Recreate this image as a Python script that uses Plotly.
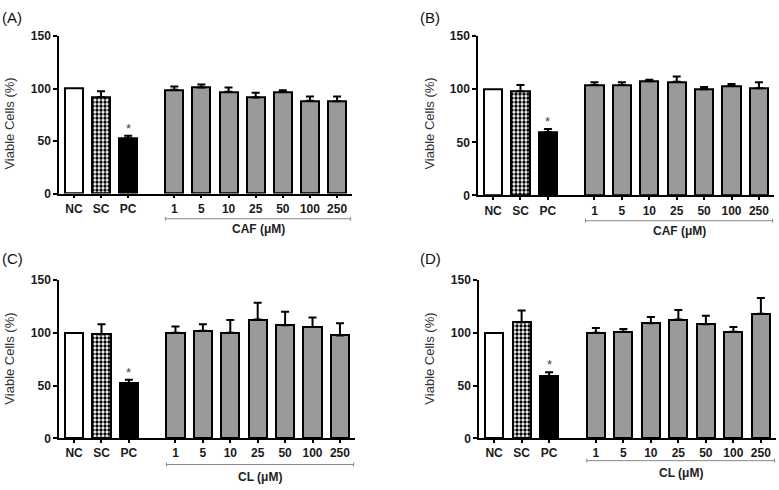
import plotly.graph_objects as go

W, H = 779, 490

categories = ["NC", "SC", "PC", "1", "5", "10", "25", "50", "100", "250"]

# Panel values (mean) and upper error (SD/SEM)
A_vals = [100, 92, 52.5, 99, 101, 97, 91.5, 97, 88.5, 88]
A_errs = [0, 5.5, 2.5, 3, 3, 4, 4.5, 1.5, 4, 4.5]
B_vals = [100, 98, 59.5, 104, 104, 107.5, 107, 100, 103, 101]
B_errs = [0, 6, 3, 2.5, 2.5, 1.5, 5, 2, 2, 5.5]
C_vals = [100, 98.5, 52.5, 100, 102, 100, 112.5, 107, 105.5, 97.5]
C_errs = [0, 9.5, 3, 6, 6, 12, 16, 13, 9, 11.5]
D_vals = [100, 110, 59, 100, 101, 109, 112.5, 108, 101, 118]
D_errs = [0, 11, 3.5, 4.5, 2.5, 6, 9, 8, 4.5, 15]

panel_labels = ["(A)", "(B)", "(C)", "(D)"]
group_labels = ["CAF (μM)", "CAF (μM)", "CL (μM)", "CL (μM)"]
y_title = "Viable Cells (%)"
y_ticks = [0, 50, 100, 150]

# positions: controls 0..2, doses after a gap
xpos = [i if i < 3 else i + 0.7 for i in range(len(categories))]

# pixel layout: (x0, x1, ytop, ybottom)
boxes = [(59, 352, 30, 192), (478, 774, 30, 194), (59, 355, 281, 444), (479, 776, 281, 444)]
brackets_py = [218, 220, 471, 467]
labels_py = [229, 231, 484, 480]
ytitle_px = [(10, 120), (430, 120), (10, 362), (430, 362)]
plabel_px = [(0, 11), (418, 11), (0, 259), (418, 259)]

panels = [(A_vals, A_errs), (B_vals, B_errs), (C_vals, C_errs), (D_vals, D_errs)]

fig = go.Figure()
font_fam = "Liberation Sans, Arial, sans-serif"
annotations = []
shapes = []
BW = 0.66

for p, (vals, errs) in enumerate(panels):
    xa = "x" if p == 0 else f"x{p+1}"
    ya = "y" if p == 0 else f"y{p+1}"
    groups = [
        ([0], dict(color="white", line=dict(color="black", width=2))),
        ([1], dict(color="white", line=dict(color="black", width=2),
                   pattern=dict(shape=".", fgcolor="black", bgcolor="white",
                                size=4, solidity=0.55, fillmode="replace"))),
        ([2], dict(color="black", line=dict(color="black", width=2))),
        (list(range(3, 10)), dict(color="#9a9a9a", line=dict(color="black", width=2))),
    ]
    for idx, mk in groups:
        fig.add_trace(go.Bar(
            x=[xpos[i] for i in idx], y=[vals[i] for i in idx],
            width=BW, marker=mk, xaxis=xa, yaxis=ya, showlegend=False,
            error_y=dict(type="data", symmetric=False,
                         array=[errs[i] for i in idx],
                         arrayminus=[0 for _ in idx],
                         color="black", thickness=2, width=4,
                         visible=any(errs[i] > 0 for i in idx)),
        ))
    x0, x1, yt, yb = boxes[p]
    dom_x = [x0 / W, x1 / W]
    dom_y = [1 - yb / H, 1 - yt / H]
    axis_common = dict(showline=True, linecolor="black", linewidth=1.5,
                       ticks="outside", tickcolor="black", tickwidth=1.5,
                       showgrid=False, zeroline=False,
                       tickfont=dict(family=font_fam, size=12, color="#1a1a1a", weight="bold"))
    xk = "xaxis" if p == 0 else f"xaxis{p+1}"
    yk = "yaxis" if p == 0 else f"yaxis{p+1}"
    fig.update_layout({
        xk: dict(domain=dom_x, range=[-0.55, 10.25], tickvals=xpos, ticktext=categories,
                 ticklen=3, anchor=ya, **axis_common),
        yk: dict(domain=dom_y, range=[0, 150], tickvals=y_ticks, ticklen=4,
                 anchor=xa, **axis_common),
    })
    # significance asterisk above PC
    annotations.append(dict(x=xpos[2], y=vals[2] + errs[2], xref=xa, yref=ya,
                            text="*", showarrow=False, yanchor="bottom", yshift=-2,
                            font=dict(family=font_fam, size=13, color="#444")))
    # bracket under dose group
    bx0 = xpos[3] - BW / 2
    bx1 = 10.2
    by = 1 - brackets_py[p] / H
    shapes.append(dict(type="line", xref=xa, yref="paper", x0=bx0, x1=bx1, y0=by, y1=by,
                       line=dict(color="#888", width=1)))
    for bx in (bx0, bx1):
        shapes.append(dict(type="line", xref=xa, yref="paper", x0=bx, x1=bx,
                           y0=by - 2 / H, y1=by + 2 / H, line=dict(color="#888", width=1)))
    annotations.append(dict(x=(bx0 + bx1) / 2, y=1 - labels_py[p] / H, xref=xa, yref="paper",
                            text=group_labels[p], showarrow=False, yanchor="middle",
                            font=dict(family=font_fam, size=12, color="#222", weight="bold")))
    # y title
    tx, ty = ytitle_px[p]
    annotations.append(dict(x=tx / W, y=1 - ty / H, xref="paper", yref="paper",
                            text=y_title, textangle=-90, showarrow=False,
                            xanchor="center", yanchor="middle",
                            font=dict(family=font_fam, size=13, color="#333")))
    # panel label
    lx, ly = plabel_px[p]
    annotations.append(dict(x=lx / W, y=1 - ly / H, xref="paper", yref="paper",
                            text=panel_labels[p], showarrow=False,
                            xanchor="left", yanchor="middle",
                            font=dict(family=font_fam, size=15, color="#111")))

fig.update_layout(width=W, height=H, margin=dict(l=0, r=0, t=0, b=0),
                  paper_bgcolor="white", plot_bgcolor="white",
                  annotations=annotations, shapes=shapes, bargap=0)

fig.write_html("out.html", config={"displayModeBar": False},
               post_script="document.body.style.margin='0';document.body.style.padding='0';")
